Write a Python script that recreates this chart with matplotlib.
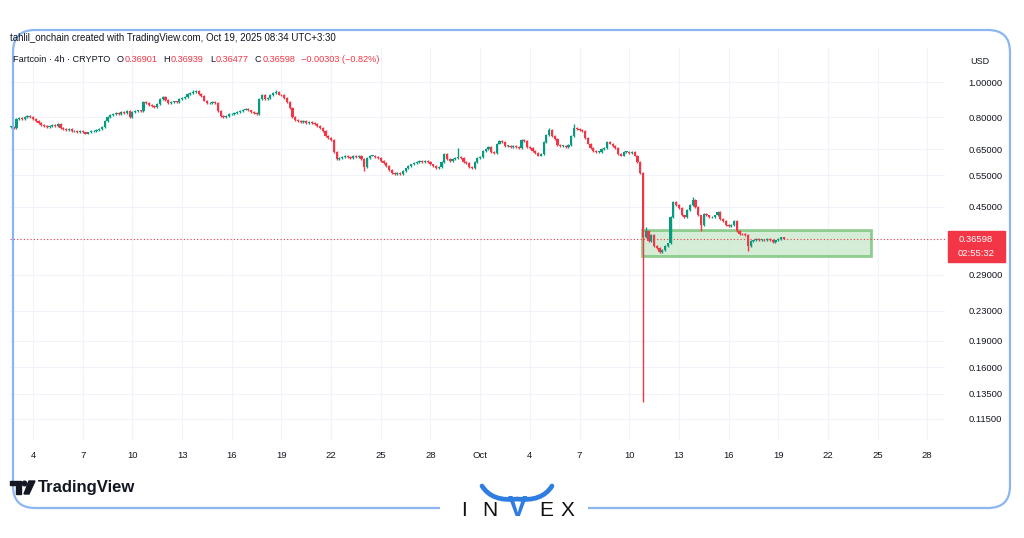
import matplotlib
matplotlib.use("Agg")
import matplotlib.pyplot as plt
from matplotlib.path import Path
from matplotlib.patches import PathPatch, Rectangle, Circle, Polygon
from matplotlib.ticker import NullLocator
import numpy as np
import pandas as pd

plt.rcParams['font.family'] = ['Liberation Sans', 'DejaVu Sans']

UP = "#089981"
DOWN = "#F23645"
TXT = "#131722"
GRID = "#f0f3fa"
FRAME = "#8cb6f2"

# 4h candles, Fartcoin / USD
start = "2025-09-02 16:00"
first_open = 0.752
closes = [
    0.752, 0.745,                                # Sep 2
    0.79, 0.795, 0.79, 0.80, 0.805, 0.80,        # Sep 3
    0.79, 0.78, 0.77, 0.76, 0.755, 0.75,         # Sep 4
    0.755, 0.76, 0.755, 0.765, 0.745, 0.74,      # Sep 5
    0.735, 0.74, 0.73, 0.73, 0.725, 0.73,        # Sep 6
    0.725, 0.72, 0.725, 0.73, 0.73, 0.735,       # Sep 7
    0.74, 0.75, 0.78, 0.80, 0.81, 0.815,         # Sep 8
    0.82, 0.815, 0.825, 0.82, 0.83, 0.80,        # Sep 9
    0.825, 0.83, 0.835, 0.83, 0.88, 0.875,       # Sep 10
    0.865, 0.86, 0.855, 0.87, 0.90, 0.91,        # Sep 11
    0.895, 0.875, 0.88, 0.885, 0.88, 0.90,       # Sep 12
    0.905, 0.91, 0.93, 0.935, 0.94, 0.945,       # Sep 13
    0.93, 0.915, 0.89, 0.875, 0.875, 0.88,       # Sep 14
    0.875, 0.83, 0.805, 0.80, 0.805, 0.815,      # Sep 15
    0.815, 0.82, 0.825, 0.83, 0.84, 0.845,       # Sep 16
    0.835, 0.825, 0.82, 0.815, 0.90, 0.92,       # Sep 17
    0.90, 0.905, 0.92, 0.935, 0.94, 0.925,       # Sep 18
    0.92, 0.905, 0.88, 0.85, 0.80, 0.785,        # Sep 19
    0.78, 0.775, 0.78, 0.77, 0.775, 0.77,        # Sep 20
    0.765, 0.755, 0.745, 0.73, 0.71, 0.70,       # Sep 21
    0.69, 0.64, 0.61, 0.615, 0.62, 0.625,        # Sep 22
    0.62, 0.615, 0.625, 0.62, 0.625, 0.61,       # Sep 23
    0.58, 0.615, 0.625, 0.625, 0.62, 0.615,      # Sep 24
    0.605, 0.595, 0.585, 0.57, 0.56, 0.555,      # Sep 25
    0.56, 0.555, 0.565, 0.575, 0.585, 0.59,      # Sep 26
    0.595, 0.60, 0.605, 0.60, 0.605, 0.60,       # Sep 27
    0.59, 0.585, 0.575, 0.58, 0.60, 0.63,        # Sep 28
    0.61, 0.605, 0.61, 0.615, 0.62, 0.615,       # Sep 29
    0.60, 0.595, 0.58, 0.575, 0.60, 0.615,       # Sep 30
    0.62, 0.645, 0.65, 0.66, 0.64, 0.635,        # Oct 1
    0.675, 0.685, 0.68, 0.665, 0.665, 0.66,      # Oct 2
    0.665, 0.66, 0.655, 0.69, 0.685, 0.66,       # Oct 3
    0.655, 0.645, 0.635, 0.625, 0.63, 0.68,      # Oct 4
    0.715, 0.735, 0.71, 0.695, 0.67, 0.665,      # Oct 5
    0.665, 0.66, 0.67, 0.71, 0.745, 0.74,        # Oct 6
    0.735, 0.73, 0.70, 0.675, 0.655, 0.645,      # Oct 7
    0.64, 0.64, 0.65, 0.655, 0.68, 0.675,        # Oct 8
    0.665, 0.655, 0.63, 0.625, 0.64, 0.64,       # Oct 9
    0.635, 0.64, 0.625, 0.60, 0.56, 0.37,        # Oct 10
    0.385, 0.36, 0.375, 0.35, 0.345, 0.335,      # Oct 11
    0.34, 0.35, 0.355, 0.42, 0.465, 0.455,       # Oct 12
    0.445, 0.425, 0.42, 0.44, 0.455, 0.47,       # Oct 13
    0.45, 0.425, 0.40, 0.43, 0.425, 0.42,        # Oct 14
    0.42, 0.425, 0.435, 0.415, 0.41, 0.40,       # Oct 15
    0.398, 0.40, 0.41, 0.385, 0.378, 0.377,      # Oct 16
    0.375, 0.35, 0.36, 0.362, 0.365, 0.363,      # Oct 17
    0.364, 0.362, 0.366, 0.364, 0.358, 0.362,    # Oct 18
    0.365, 0.36901, 0.36598,                     # Oct 19
]
wick_high = {"2025-09-13 16:00": 0.955, "2025-09-18 16:00": 0.955,
             "2025-09-29 16:00": 0.655, "2025-10-05 04:00": 0.745,
             "2025-10-06 16:00": 0.765, "2025-10-11 00:00": 0.395,
             "2025-10-13 20:00": 0.478, "2025-10-19 08:00": 0.36939}
wick_low = {"2025-09-24 00:00": 0.565, "2025-10-10 20:00": 0.128,
            "2025-10-14 08:00": 0.385, "2025-10-17 04:00": 0.338,
            "2025-10-19 08:00": 0.36477}

box_start, box_end = "2025-10-10 18:45", "2025-10-24 14:30"
box_low, box_high = 0.328, 0.387

last_price = 0.36598
price_ticks = [1.0, 0.8, 0.65, 0.55, 0.45, 0.29, 0.23, 0.19, 0.16, 0.135, 0.115]
date_ticks = ["2025-09-04", "2025-09-07", "2025-09-10", "2025-09-13", "2025-09-16",
              "2025-09-19", "2025-09-22", "2025-09-25", "2025-09-28", "2025-10-01",
              "2025-10-04", "2025-10-07", "2025-10-10", "2025-10-13", "2025-10-16",
              "2025-10-19", "2025-10-22", "2025-10-25", "2025-10-28"]
date_labels = ["4", "7", "10", "13", "16", "19", "22", "25", "28", "Oct",
               "4", "7", "10", "13", "16", "19", "22", "25", "28"]

# build OHLC
times = pd.date_range(start, periods=len(closes), freq="4h")
c = np.array(closes)
o = np.concatenate([[first_open], c[:-1]])
hi = np.maximum(o, c) * 1.006
lo = np.minimum(o, c) / 1.006
for k, v in wick_high.items():
    hi[times.get_loc(pd.Timestamp(k))] = v
for k, v in wick_low.items():
    lo[times.get_loc(pd.Timestamp(k))] = v
colors = np.where(c >= o, UP, DOWN)

fig = plt.figure(figsize=(10.24, 5.38), dpi=100)
fig.patch.set_facecolor("white")
W, H = 1024, 538

ax = fig.add_axes([10 / W, 98 / H, 935 / W, 392 / H])
ax.set_yscale("log")
ax.set_ylim(0.1003, 1.248)
ax.set_xlim(pd.Timestamp("2025-09-02 14:40"), pd.Timestamp("2025-10-29 01:40"))

ax.add_patch(Rectangle((pd.Timestamp(box_start), box_low),
                       pd.Timestamp(box_end) - pd.Timestamp(box_start),
                       box_high - box_low, facecolor="#c8e6c9", alpha=0.75,
                       edgecolor="#6fc06f", lw=2, zorder=1))

ax.vlines(times, lo, hi, colors=colors, lw=1.0, zorder=3)
body = np.maximum(np.abs(c - o), c * 0.004)
ax.bar(times, body, bottom=np.minimum(o, c), width=pd.Timedelta(hours=3.2),
       color=colors, zorder=4, linewidth=0)

ax.axhline(last_price, color=DOWN, lw=0.8, ls=(0, (1, 2)), zorder=2)

ax.yaxis.tick_right()
ax.set_yticks(price_ticks)
ax.set_yticklabels([f"{p:.5f}" for p in price_ticks])
ax.yaxis.set_minor_locator(NullLocator())
ax.set_xticks(pd.to_datetime(date_ticks))
ax.set_xticklabels(date_labels)
ax.tick_params(axis="y", length=0, pad=17, labelsize=6.8, colors=TXT)
ax.tick_params(axis="x", length=0, pad=8, labelsize=6.8, colors=TXT)
ax.grid(True, color=GRID, lw=0.8)
ax.set_axisbelow(True)
for s in ax.spines.values():
    s.set_visible(False)

# overlay in pixel coordinates
ov = fig.add_axes([0, 0, 1, 1], zorder=10)
ov.set_xlim(0, W)
ov.set_ylim(H, 0)
ov.axis("off")
ov.patch.set_alpha(0)

ov.text(10, 38, "tahlil_onchain created with TradingView.com, Oct 19, 2025 08:34 UTC+3:30",
        fontsize=7, color=TXT, va="center")

# legend line, pieces chained left to right
legend = [("Fartcoin · 4h · CRYPTO", TXT, 0), ("O", TXT, 4.5), ("0.36901", DOWN, 0.5),
          ("H", TXT, 4.5), ("0.36939", DOWN, 0.5), ("L", TXT, 4.5), ("0.36477", DOWN, 0.5),
          ("C", TXT, 4.5), ("0.36598", DOWN, 0.5), ("−0.00303 (−0.82%)", DOWN, 4.5)]
prev = None
for s, col, gap in legend:
    if prev is None:
        prev = ov.text(13, 59, s, fontsize=6.6, color=col, va="center")
    else:
        prev = ov.annotate(s, xy=(1, 0.5), xycoords=prev, xytext=(gap, 0),
                           textcoords="offset points", fontsize=6.6, color=col,
                           va="center")

ov.text(980, 62, "USD", fontsize=6.5, color=TXT, ha="center", va="center")
ov.add_patch(Rectangle((948, 231), 57, 31, color=DOWN))
ov.text(976, 240, f"{last_price:.5f}", fontsize=6.8, color="white", ha="center", va="center")
ov.text(976, 253, "02:55:32", fontsize=6.8, color="white", ha="center", va="center")

# frame
L, R, T, B, r = 13, 1010, 30, 508, 22
verts = [(440, B), (L + r, B), (L, B), (L, B - r), (L, T + r), (L, T), (L + r, T),
         (R - r, T), (R, T), (R, T + r), (R, B - r), (R, B), (R - r, B), (588, B)]
codes = [Path.MOVETO, Path.LINETO, Path.CURVE3, Path.CURVE3, Path.LINETO, Path.CURVE3,
         Path.CURVE3, Path.LINETO, Path.CURVE3, Path.CURVE3, Path.LINETO, Path.CURVE3,
         Path.CURVE3, Path.LINETO]
ov.add_patch(PathPatch(Path(verts, codes), fill=False, edgecolor=FRAME, lw=1.6))

# INVEX logo
for x, s in [(464, "I"), (490, "N"), (546, "E"), (567, "X")]:
    ov.text(x, 511, s, fontsize=15, color="#111111", ha="center", va="center",
            fontweight="medium")
ov.text(517, 508, "V", fontsize=21, color="#2f7de1", ha="center", va="center",
        fontweight="bold")
horn = Path([(482, 486), (492, 502), (517, 499), (542, 502), (552, 486)],
            [Path.MOVETO, Path.CURVE3, Path.CURVE3, Path.CURVE3, Path.CURVE3])
ov.add_patch(PathPatch(horn, fill=False, edgecolor="#2f7de1", lw=3.4, capstyle="round"))

# TradingView logo
ov.add_patch(Polygon([(10, 481), (21, 481), (21, 494), (16, 494), (16, 485), (10, 485)],
                     color="#131722"))
ov.add_patch(Circle((24.5, 483.5), 2.3, color="#131722"))
ov.add_patch(Polygon([(29, 481), (35, 481), (29, 494), (24, 494)], color="#131722"))
ov.text(38, 487.5, "TradingView", fontsize=12, fontweight="bold", color="#131722",
        va="center")

fig.savefig("out.png", dpi=100, facecolor="white")
